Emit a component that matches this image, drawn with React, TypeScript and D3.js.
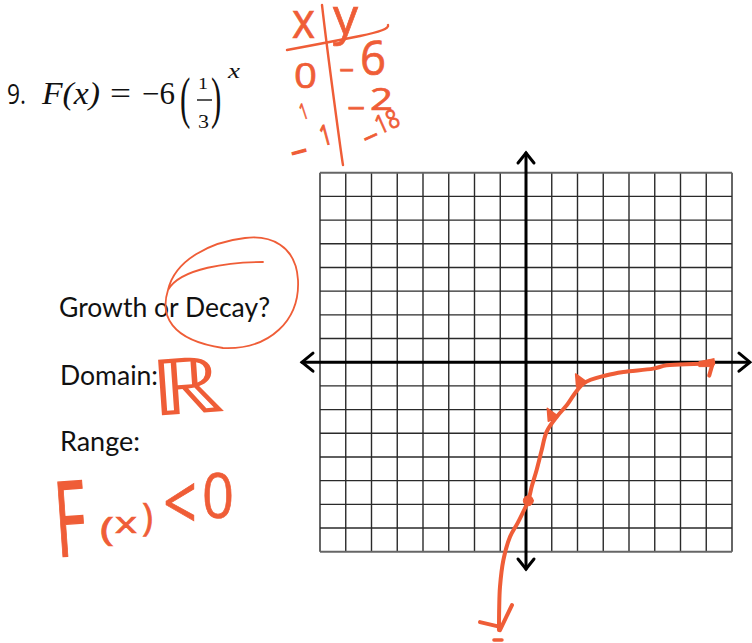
import React, { useEffect } from "react";
import * as d3 from "d3";

// Graph paper: 16 x 16 cells, one unit per cell
const gridTicks = d3.range(-8, 9);

// Hand-sketched curve of F(x) = -6 (1/3)^x, traced as (x, y) pairs
const sketchX = [-1.05, -1.04, -1.01, -0.88, -0.62, -0.3, 0.09, 0.22, 0.41, 0.61, 0.8, 1.19, 1.58, 2.23, 3.13, 3.78, 4.94, 5.46, 6.5, 7.27];
const sketchY = [-11.31, -10.33, -9.48, -8.36, -7.37, -6.74, -5.83, -5.26, -4.56, -3.71, -2.94, -2.31, -1.82, -0.9, -0.55, -0.41, -0.27, -0.13, -0.08, -0.06];

// Points marked on the sketch
const markX = [0.09, 1.06, 2.16];
const markY = [-5.85, -2.24, -0.79];
const markKind = ["dot", "wedge", "wedge"];

// Table of values written next to the formula
const tableX = ["0", "1", "1"];
const tableYDigits = ["6", "2", "18"];

const ORANGE = "#EF5D37";

export default function App() {
  useEffect(() => {
    document.body.style.margin = "0";
  }, []);

  const x = d3.scaleLinear().domain([-8, 8]).range([320, 732]);
  const y = d3.scaleLinear().domain([8, -8]).range([172.7, 551.7]);

  const pts: [number, number][] = sketchX.map((v, i) => [v, sketchY[i]]);
  const line = d3
    .line<[number, number]>()
    .x((d) => x(d[0]))
    .y((d) => y(d[1]))
    .curve(d3.curveCatmullRom.alpha(0.5));

  const x0 = x(0);
  const y0 = y(0);
  const first = [x(pts[0][0]), y(pts[0][1])];
  const last = [x(pts[pts.length - 1][0]), y(pts[pts.length - 1][1])];

  const hand = { fill: ORANGE, fontFamily: "'Open Sans', sans-serif", fontWeight: 400, stroke: ORANGE, strokeWidth: 0.7 } as const;
  const sans = { fontFamily: "'Open Sans', Lato, sans-serif", fill: "#111" } as const;
  const body = { fontFamily: "Lato, 'Open Sans', sans-serif", fill: "#111" } as const;
  const serif = { fontFamily: "'Liberation Serif', 'DejaVu Serif', serif", fill: "#111" } as const;
  const fit = { lengthAdjust: "spacingAndGlyphs" } as const;

  return (
    <svg width={752} height={643} style={{ display: "block", background: "#fff" }}>
      {/* formula */}
      <text x={7} y={104} fontSize={28} {...sans} textLength={19} {...fit}>9.</text>
      <text x={42} y={104} fontSize={31} fontStyle="italic" {...serif} textLength={58} {...fit}>F(x)</text>
      <text x={110} y={104} fontSize={31} {...serif} textLength={21} {...fit}>=</text>
      <text x={142} y={104} fontSize={31} {...serif} textLength={33} {...fit}>−6</text>
      <text transform="translate(180,117) scale(1,1.85)" fontSize={31} {...serif}>(</text>
      <text x={198} y={89} fontSize={17} {...serif} textLength={10} {...fit}>1</text>
      <line x1={197} x2={212} y1={100} y2={100} stroke="#111" strokeWidth={1.4} />
      <text x={198} y={128} fontSize={18} {...serif} textLength={11} {...fit}>3</text>
      <text transform="translate(211,117) scale(1,1.85)" fontSize={31} {...serif}>)</text>
      <text x={228} y={78} fontSize={22} fontStyle="italic" {...serif} textLength={12} {...fit}>x</text>

      {/* questions */}
      <text x={59} y={317} fontSize={26} {...body} textLength={211} {...fit}>Growth or Decay?</text>
      <text x={60} y={385} fontSize={26} {...body} textLength={98} {...fit}>Domain:</text>
      <text x={60} y={451} fontSize={26} {...body} textLength={80} {...fit}>Range:</text>

      {/* grid */}
      <g>
        {gridTicks.map((t) => (
          <line key={"v" + t} x1={x(t)} x2={x(t)} y1={y(8)} y2={y(-8)} stroke={Math.abs(t) === 8 ? "#666" : "#2a2a2a"} strokeWidth={Math.abs(t) === 8 ? 2 : 1.4} />
        ))}
        {gridTicks.map((t) => (
          <line key={"h" + t} y1={y(t)} y2={y(t)} x1={x(-8)} x2={x(8)} stroke={Math.abs(t) === 8 ? "#666" : "#2a2a2a"} strokeWidth={Math.abs(t) === 8 ? 2 : 1.4} />
        ))}
      </g>

      {/* axes with arrowheads */}
      <g stroke="#000" strokeWidth={3} fill="none" strokeLinecap="round" strokeLinejoin="miter">
        <line x1={302} x2={749} y1={y0} y2={y0} />
        <line x1={x0} x2={x0} y1={153} y2={569} />
        <path d={`M${313},${y0 - 9} L${302},${y0} L${313},${y0 + 9}`} />
        <path d={`M${739},${y0 - 9} L${750},${y0} L${739},${y0 + 9}`} />
        <path d={`M${x0 - 8},${163} L${x0},${153} L${x0 + 8},${163}`} />
        <path d={`M${x0 - 8},${559} L${x0},${569} L${x0 + 8},${559}`} />
      </g>

      {/* sketched curve */}
      <path d={line(pts) || ""} fill="none" stroke={ORANGE} strokeWidth={4} strokeLinecap="round" strokeLinejoin="round" />
      <g fill={ORANGE} stroke={ORANGE} strokeLinecap="round" strokeLinejoin="round">
        <path d={`M${last[0] - 14},${last[1] - 2} L${last[0] + 1},${last[1] - 5} L${last[0]},${last[1] + 3} L${last[0] - 14},${last[1] + 3} Z`} strokeWidth={1} />
        <path d={`M${last[0]},${last[1] - 2} L${last[0] - 4},${last[1] + 12}`} fill="none" strokeWidth={4} />
        <path d={`M${first[0] - 19},${first[1] - 8} L${first[0] - 2},${first[1] - 4}`} fill="none" strokeWidth={4} />
        <path d={`M${first[0] + 13},${first[1] - 25} L${first[0] + 1},${first[1]}`} fill="none" strokeWidth={4} />
        <path d={`M${first[0] - 5},${first[1] + 10} L${first[0] + 3},${first[1] + 10}`} fill="none" strokeWidth={3.5} />
        {markX.map((mx, i) =>
          markKind[i] === "dot" ? (
            <circle key={i} cx={x(mx)} cy={y(markY[i])} r={5} strokeWidth={1} />
          ) : (
            <path key={i} d={`M${x(mx) - 6},${y(markY[i]) - 7} L${x(mx) + 5},${y(markY[i]) + 1} L${x(mx) - 5},${y(markY[i]) + 6} Z`} strokeWidth={1.5} />
          )
        )}
      </g>

      {/* handwritten table of values */}
      <g fill="none" stroke={ORANGE} strokeWidth={2.4} strokeLinecap="round">
        <path d="M322,5 Q326,40 334,100 T343,165" />
        <path d="M287,50 Q330,42 360,36 T388,25" />
      </g>
      <g {...hand}>
        <text x={292} y={38} fontSize={50} textLength={23} {...fit}>x</text>
        <text x={333} y={34} fontSize={50} textLength={25} {...fit}>y</text>
        <text x={294} y={88} fontSize={35} textLength={23} {...fit}>{tableX[0]}</text>
        <text x={339} y={81} fontSize={30} textLength={15} {...fit}>−</text>
        <text x={360} y={75} fontSize={48} textLength={26} {...fit}>{tableYDigits[0]}</text>
        <text x={300} y={119} fontSize={22} textLength={8} {...fit} transform="rotate(-18 304 112)">{tableX[1]}</text>
        <text x={347} y={119} fontSize={30} textLength={18} {...fit}>−</text>
        <text x={370} y={110} fontSize={31} textLength={23} {...fit}>{tableYDigits[1]}</text>
        <text x={291} y={164} fontSize={34} textLength={17} strokeWidth={1.2} {...fit} transform="rotate(-15 299 153)">−</text>
        <text x={320} y={145} fontSize={28} textLength={11} strokeWidth={1.2} {...fit} transform="rotate(-15 325 135)">{tableX[2]}</text>
        <g transform="rotate(-24 380 128)">
          <text x={360} y={143} fontSize={30} textLength={16} {...fit}>−</text>
          <text x={377} y={134} fontSize={26} textLength={24} {...fit}>{tableYDigits[2]}</text>
        </g>
      </g>

      {/* circled answer and handwritten domain / range */}
      <path
        d="M263,262 C230,262 180,268 168,290 C160,315 170,340 223,348 C270,350 300,320 298,280 C296,245 270,235 245,238 C210,242 175,260 168,290"
        fill="none"
        stroke={ORANGE}
        strokeWidth={1.8}
        strokeLinecap="round"
      />
      <g {...hand}>
        <text x={150} y={414} fontSize={78} fontFamily="'DejaVu Sans ExtraLight', 'DejaVu Sans', sans-serif" fontWeight={200} strokeWidth={0} textLength={74} {...fit} transform="rotate(-4 185 385)">ℝ</text>
        <text transform="translate(57,557) rotate(-4) scale(1.1,1.9)" fontSize={55}>F</text>
        <text x={100} y={541} fontSize={32} textLength={14} {...fit}>(</text>
        <text x={115} y={533} fontSize={30} textLength={22} {...fit}>x</text>
        <text x={142} y={531} fontSize={38} textLength={11} {...fit}>)</text>
        <text x={163} y={530} fontSize={76} textLength={34} {...fit}>&lt;</text>
        <text x={202} y={518} fontSize={62} textLength={32} {...fit}>0</text>
      </g>
    </svg>
  );
}
